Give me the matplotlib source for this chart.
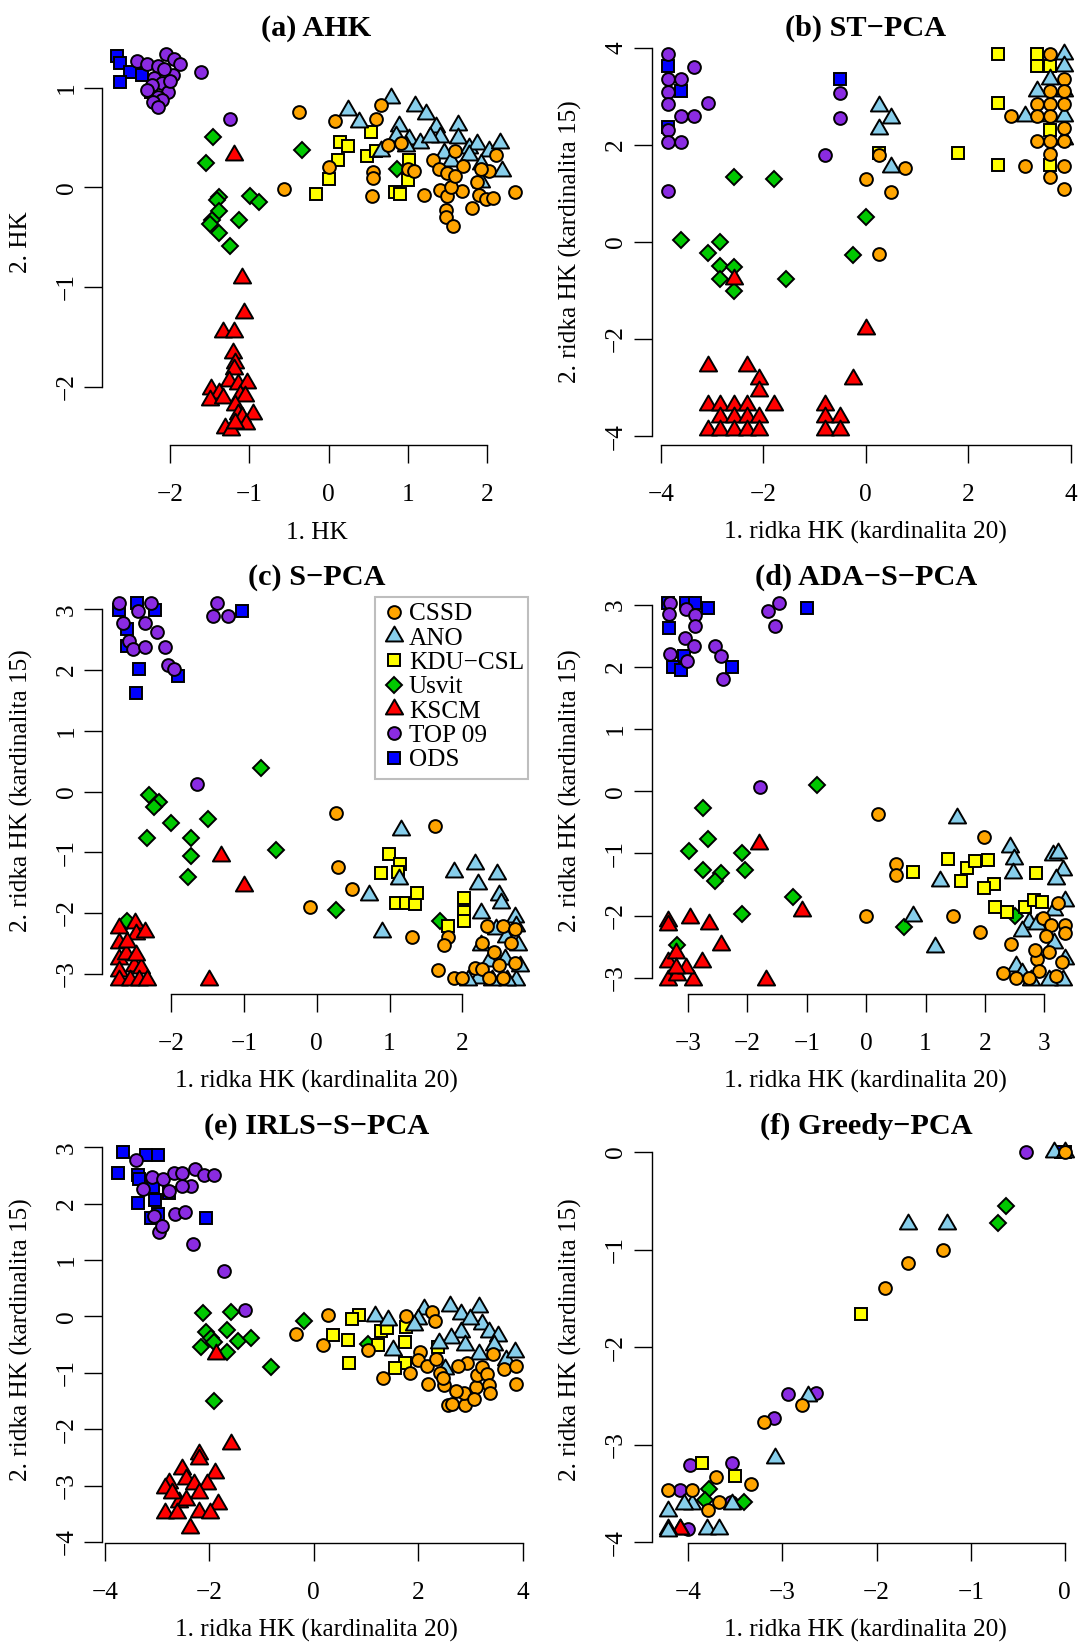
import numpy as np
import matplotlib
matplotlib.use("Agg")
import matplotlib.pyplot as plt
from matplotlib.path import Path
from matplotlib.patches import Rectangle
from matplotlib.lines import Line2D

plt.rcParams['font.family'] = ['Liberation Serif', 'DejaVu Serif']
plt.rcParams['axes.unicode_minus'] = True

# ---------------------------------------------------------------- data
PARTIES = ["CSSD", "ANO", "KDU\u2212CSL", "Usvit", "KSCM", "TOP 09", "ODS"]

TITLES = ["(a) AHK", "(b) ST\u2212PCA", "(c) S\u2212PCA", "(d) ADA\u2212S\u2212PCA",
          "(e) IRLS\u2212S\u2212PCA", "(f) Greedy\u2212PCA"]
XLABELS = ["1. HK"] + ["1. ridka HK (kardinalita 20)"] * 5
YLABELS = ["2. HK"] + ["2. ridka HK (kardinalita 15)"] * 5

XTICKS = [[-2, -1, 0, 1, 2], [-4, -2, 0, 2, 4], [-2, -1, 0, 1, 2],
          [-3, -2, -1, 0, 1, 2, 3], [-4, -2, 0, 2, 4], [-4, -3, -2, -1, 0]]
YTICKS = [[-2, -1, 0, 1], [-4, -2, 0, 2, 4], [-3, -2, -1, 0, 1, 2, 3],
          [-3, -2, -1, 0, 1, 2, 3], [-4, -3, -2, -1, 0, 1, 2, 3], [-4, -3, -2, -1, 0]]

# (a) AHK
A_CSSD = [(-0.38, 0.76), (0.08, 0.67), (0.00, 0.20), (-0.56, -0.02), (0.60, 0.69), (0.66, 0.83),
          (0.56, 0.15), (0.56, 0.09), (0.55, -0.09), (0.75, 0.43), (0.91, 0.45), (1.00, 0.18),
          (1.08, 0.16), (1.20, -0.08), (1.32, 0.27), (1.39, 0.18), (1.49, 0.14), (1.41, -0.03),
          (1.50, -0.09), (1.60, 0.37), (1.70, 0.21), (1.68, -0.04), (1.54, 0.00), (1.48, -0.23),
          (1.48, -0.30), (1.57, -0.39), (1.81, -0.21), (1.90, -0.08), (1.99, -0.12), (2.07, -0.11),
          (2.02, 0.16), (1.92, 0.18), (2.12, 0.32), (2.36, -0.05), (1.87, 0.05), (1.59, 0.11)]
A_ANO = [(0.24, 0.78), (0.38, 0.66), (0.79, 0.90), (1.09, 0.82), (1.23, 0.74), (0.89, 0.62),
         (1.02, 0.49), (0.66, 0.37), (1.15, 0.45), (1.35, 0.61), (1.41, 0.51), (1.63, 0.63),
         (1.63, 0.50), (1.77, 0.40), (1.88, 0.44), (2.02, 0.37), (2.16, 0.45), (2.19, 0.16),
         (1.93, 0.05), (1.93, 0.23), (1.77, 0.33), (1.46, 0.35), (1.54, 0.26), (1.28, 0.51),
         (0.98, 0.42), (0.85, 0.52)]
A_KDU = [(-0.16, -0.07), (0.00, 0.08), (0.12, 0.27), (0.14, 0.46), (0.24, 0.42), (0.48, 0.31),
         (0.53, 0.56), (0.60, 0.37), (0.84, -0.05), (0.90, -0.07), (1.00, 0.07), (1.02, 0.27)]
A_USVIT = [(-1.46, 0.51), (-1.55, 0.24), (-1.38, -0.10), (-1.41, -0.13), (-0.99, -0.09),
           (-0.88, -0.15), (-1.38, -0.24), (-1.47, -0.33), (-1.50, -0.37), (-1.13, -0.33),
           (-1.38, -0.46), (-1.24, -0.59), (-0.34, 0.38), (0.86, 0.18)]
A_KSCM = [(-1.20, 0.33), (-1.10, -0.91), (-1.07, -1.26), (-1.34, -1.45), (-1.20, -1.45),
          (-1.21, -1.66), (-1.18, -1.76), (-1.20, -1.82), (-1.26, -1.94), (-1.15, -1.97),
          (-1.03, -1.96), (-1.49, -2.02), (-1.38, -2.06), (-1.12, -2.08), (-1.06, -2.09),
          (-1.50, -2.13), (-1.34, -2.11), (-1.18, -2.18), (-1.15, -2.27), (-0.96, -2.27),
          (-1.10, -2.30), (-1.31, -2.41), (-1.23, -2.43), (-1.05, -2.37), (-1.18, -2.36)]
A_TOP09 = [(-2.42, 1.27), (-2.29, 1.24), (-2.16, 1.22), (-2.06, 1.34), (-1.95, 1.29), (-1.88, 1.24),
           (-1.97, 1.13), (-2.08, 1.19), (-2.21, 1.10), (-2.10, 1.05), (-2.23, 1.03), (-2.29, 0.98),
           (-2.03, 0.96), (-2.16, 0.91), (-2.11, 0.88), (-2.22, 0.86), (-2.16, 0.81), (-2.01, 1.07),
           (-1.61, 1.16), (-1.24, 0.69)]
A_ODS = [(-2.67, 1.32), (-2.64, 1.25), (-2.40, 1.23), (-2.51, 1.16), (-2.64, 1.06), (-2.36, 1.13),
         (-2.25, 0.96)]

# (b) ST-PCA
B_CSSD = [(3.60, 3.88), (3.87, 3.36), (3.60, 3.12), (3.35, 2.84), (3.60, 2.84), (3.87, 2.84),
          (2.84, 2.59), (3.35, 2.59), (3.60, 2.59), (3.87, 2.34), (3.35, 2.09), (3.60, 2.09),
          (3.60, 1.81), (3.10, 1.57), (3.87, 1.57), (3.60, 1.34), (3.87, 1.09), (3.87, 2.09),
          (3.87, 3.12), (0.26, 1.79), (0.77, 1.53), (0.00, 1.29), (0.50, 1.04), (0.26, -0.24)]
B_ANO = [(3.87, 3.88), (3.87, 3.63), (3.60, 3.35), (3.35, 3.12), (3.87, 3.12), (3.10, 2.59),
         (3.60, 2.59), (3.87, 2.59), (3.87, 2.13), (0.26, 2.81), (0.50, 2.56), (0.26, 2.33),
         (0.50, 1.55)]
B_KDU = [(2.58, 3.88), (3.35, 3.88), (3.35, 3.63), (3.60, 3.63), (2.58, 2.86), (3.60, 2.31),
         (1.80, 1.84), (2.58, 1.59), (3.60, 1.59), (0.26, 1.84)]
B_USVIT = [(-2.57, 1.33), (-1.80, 1.30), (-3.61, 0.04), (-3.09, -0.22), (-2.84, 0.01),
           (-2.84, -0.50), (-2.57, -0.52), (-2.84, -0.76), (-2.57, -1.02), (-1.55, -0.77),
           (0.00, 0.52), (-0.26, -0.26)]
B_KSCM = [(-3.09, -2.56), (-2.33, -2.56), (-2.08, -2.82), (-2.08, -3.07), (-3.09, -3.35),
          (-2.84, -3.35), (-2.57, -3.35), (-2.33, -3.35), (-1.80, -3.35), (-2.84, -3.60),
          (-2.57, -3.60), (-2.33, -3.60), (-2.08, -3.60), (-3.09, -3.87), (-2.84, -3.87),
          (-2.57, -3.87), (-2.33, -3.87), (-2.08, -3.87), (-0.79, -3.35), (-0.79, -3.60),
          (-0.51, -3.60), (-0.79, -3.87), (-0.51, -3.87), (-0.26, -2.82), (0.00, -1.80),
          (-2.57, -0.77)]
B_TOP09 = [(-3.86, 3.88), (-3.86, 3.36), (-3.86, 3.10), (-3.86, 2.84), (-3.86, 2.31), (-3.86, 2.06),
           (-3.86, 1.05), (-3.61, 3.36), (-3.61, 2.59), (-3.61, 2.06), (-3.35, 3.60), (-3.35, 2.59),
           (-3.09, 2.86), (-0.79, 1.79), (-0.51, 3.07), (-0.51, 2.56)]
B_ODS = [(-3.86, 3.63), (-3.86, 2.38), (-3.61, 3.12), (-0.51, 3.35)]

# (c) S-PCA
C_CSSD = [(0.26, -0.36), (1.62, -0.57), (0.29, -1.25), (0.48, -1.61), (-0.09, -1.90), (1.31, -2.40),
          (1.80, -2.40), (1.75, -2.53), (1.66, -2.94), (1.88, -3.07), (1.99, -3.07), (2.34, -2.22),
          (2.56, -2.22), (2.72, -2.26), (2.27, -2.50), (2.67, -2.50), (2.44, -2.65), (2.18, -2.90),
          (2.27, -2.93), (2.51, -2.85), (2.72, -2.82), (2.36, -3.07), (2.56, -3.07)]
C_ANO = [(1.16, -0.63), (1.13, -1.44), (0.72, -1.70), (0.90, -2.31), (1.88, -1.33), (2.18, -1.19),
         (2.22, -1.53), (2.47, -1.36), (2.51, -1.70), (2.53, -1.84), (2.25, -2.00), (2.72, -2.07),
         (2.74, -2.22), (2.22, -3.07), (2.36, -2.79), (2.58, -2.76), (2.74, -3.10), (2.79, -2.87),
         (2.25, -2.53), (2.46, -2.27), (2.60, -2.39), (2.77, -2.53), (2.62, -3.10), (2.41, -3.10),
         (2.08, -3.10)]
C_KDU = [(0.99, -1.03), (1.14, -1.20), (0.88, -1.34), (1.11, -1.33), (1.09, -1.83), (1.22, -1.84),
         (1.35, -1.86), (1.38, -1.67), (2.03, -1.76), (2.03, -1.99), (2.03, -2.13), (1.81, -2.22)]
C_USVIT = [(-2.31, -0.06), (-2.17, -0.18), (-2.24, -0.25), (-2.00, -0.52), (-1.49, -0.46),
           (-2.33, -0.77), (-1.73, -0.77), (-1.73, -1.06), (-1.77, -1.41), (-0.77, 0.39),
           (-0.56, -0.97), (0.27, -1.95), (1.70, -2.13), (-2.60, -2.13)]
C_KSCM = [(-1.32, -1.07), (-1.00, -1.56), (-1.48, -3.10), (-2.72, -2.24), (-2.50, -2.16),
          (-2.48, -2.35), (-2.36, -2.31), (-2.72, -2.50), (-2.72, -2.76), (-2.62, -2.67),
          (-2.72, -2.96), (-2.51, -2.87), (-2.41, -2.90), (-2.72, -3.10), (-2.56, -3.10),
          (-2.44, -3.10), (-2.33, -3.10), (-2.61, -2.47), (-2.48, -2.70)]
C_TOP09 = [(-2.72, 3.10), (-2.27, 3.10), (-1.37, 3.10), (-2.66, 2.78), (-2.36, 2.78), (-2.46, 2.97),
           (-2.20, 2.62), (-2.58, 2.48), (-2.53, 2.35), (-2.36, 2.38), (-2.09, 2.38), (-2.04, 2.08),
           (-1.96, 2.02), (-1.42, 2.89), (-1.22, 2.89), (-1.65, 0.13)]
C_ODS = [(-2.72, 2.99), (-2.47, 3.11), (-2.22, 2.99), (-2.61, 2.68), (-2.61, 2.39), (-2.44, 2.02),
         (-2.48, 1.62), (-1.90, 1.91), (-1.02, 2.98)]

# (d) ADA-S-PCA
D_CSSD = [(0.20, -0.36), (1.98, -0.74), (0.50, -1.17), (0.50, -1.35), (0.00, -2.00), (1.46, -2.00),
          (1.91, -2.26), (2.44, -2.46), (3.23, -1.80), (2.97, -2.04), (3.11, -2.16), (3.35, -2.16),
          (3.03, -2.33), (3.35, -2.28), (2.88, -2.70), (2.91, -2.89), (2.30, -2.93), (2.52, -3.00),
          (2.74, -3.00), (3.20, -2.98), (3.29, -2.75), (3.08, -2.58), (2.85, -2.56)]
D_ANO = [(1.53, -0.43), (1.24, -1.45), (0.79, -2.01), (1.16, -2.50), (2.42, -0.90), (2.49, -1.09),
         (2.48, -1.31), (3.14, -1.02), (3.23, -0.99), (3.32, -1.27), (3.20, -1.41), (3.35, -1.77),
         (3.17, -1.91), (2.74, -2.11), (2.88, -2.13), (2.62, -2.25), (3.17, -2.44), (3.35, -2.70),
         (2.53, -2.81), (2.77, -3.03), (3.32, -3.03), (3.08, -3.03), (2.62, -2.92)]
D_KDU = [(0.79, -1.30), (1.37, -1.09), (1.59, -1.44), (1.69, -1.23), (1.84, -1.13), (2.05, -1.11),
         (2.15, -1.49), (1.99, -1.55), (2.86, -1.31), (2.17, -1.86), (2.67, -1.86), (2.82, -1.75),
         (2.96, -1.79), (2.38, -1.94)]
D_USVIT = [(-2.74, -0.27), (-2.67, -0.77), (-2.99, -0.96), (-2.74, -1.27), (-2.45, -1.31),
           (-2.54, -1.44), (-2.09, -1.00), (-2.04, -1.27), (-2.09, -1.97), (-1.24, -1.70),
           (-0.83, 0.10), (0.64, -2.19), (2.50, -2.00), (-3.18, -2.47)]
D_KSCM = [(-1.81, -0.85), (-1.08, -1.92), (-3.34, -2.09), (-3.34, -2.16), (-2.96, -2.04),
          (-2.64, -2.14), (-2.44, -2.47), (-1.68, -3.03), (-3.34, -2.75), (-3.21, -2.61),
          (-2.77, -2.75), (-3.34, -3.03), (-3.18, -2.95), (-2.92, -3.03), (-3.03, -2.84),
          (-3.21, -2.84)]
D_TOP09 = [(-3.30, 3.02), (-3.32, 2.85), (-3.03, 2.93), (-2.89, 2.84), (-2.89, 2.66), (-3.05, 2.46),
           (-2.90, 2.33), (-3.30, 2.20), (-3.01, 2.09), (-2.54, 2.33), (-2.45, 2.17), (-2.41, 1.81),
           (-1.66, 2.90), (-1.46, 3.02), (-1.54, 2.65), (-1.79, 0.06)]
D_ODS = [(-3.34, 3.02), (-3.03, 3.02), (-2.89, 3.02), (-2.67, 2.95), (-3.32, 2.62), (-3.06, 2.17),
         (-3.26, 2.00), (-3.12, 1.95), (-2.26, 2.00), (-0.99, 2.95)]

# (e) IRLS-S-PCA
E_CSSD = [(0.27, 0.02), (-0.34, -0.31), (0.18, -0.50), (1.04, -0.60), (1.33, -1.10), (1.76, 0.00),
          (2.27, 0.08), (2.32, -0.08), (1.84, -1.00), (2.03, -0.63), (1.99, -0.78), (2.17, -0.88),
          (2.19, -1.19), (2.34, -0.75), (2.42, -1.00), (2.50, -1.22), (2.57, -1.57), (2.65, -1.55),
          (2.90, -1.57), (2.87, -1.35), (2.93, -0.82), (3.10, -1.25), (3.13, -1.03), (3.23, -0.89),
          (3.31, -1.02), (3.35, -1.22), (3.37, -1.35), (3.43, -0.66), (3.64, -0.94), (3.87, -0.88),
          (3.87, -1.19), (2.47, -1.10), (2.73, -1.32), (3.06, -1.47), (2.77, -0.88)]
E_ANO = [(1.17, 0.00), (1.43, -0.06), (2.11, 0.14), (1.99, -0.05), (1.91, -0.16), (2.60, 0.19),
         (2.82, 0.05), (3.16, 0.16), (3.22, -0.13), (3.35, -0.28), (3.53, -0.35), (2.82, -0.28),
         (2.63, -0.38), (2.90, -0.50), (2.40, -0.47), (1.51, -0.60), (2.52, -0.94), (3.16, -0.66),
         (3.46, -0.50), (3.68, -0.78), (3.86, -0.63), (3.00, -0.05)]
E_KDU = [(0.87, 0.03), (0.73, -0.05), (0.36, -0.33), (0.65, -0.42), (0.67, -0.83), (1.28, -0.25),
         (1.23, -0.50), (1.41, -0.20), (1.74, -0.45), (1.74, -0.83), (1.56, -0.91), (1.76, -0.19),
         (2.38, -0.55)]
E_USVIT = [(-2.12, 0.06), (-1.58, 0.08), (-2.07, -0.27), (-1.97, -0.38), (-2.17, -0.55),
           (-1.92, -0.45), (-1.66, -0.24), (-1.66, -0.63), (-1.45, -0.43), (-1.20, -0.38),
           (-0.83, -0.89), (-1.92, -1.50), (-0.19, -0.08), (1.04, -0.48)]
E_KSCM = [(-1.87, -0.66), (-1.58, -2.27), (-2.20, -2.44), (-2.20, -2.52), (-2.52, -2.71),
          (-1.89, -2.77), (-2.77, -2.95), (-2.45, -2.88), (-2.30, -2.98), (-2.05, -2.98),
          (-2.85, -3.04), (-2.58, -3.29), (-2.20, -3.13), (-1.84, -3.33), (-2.86, -3.48),
          (-2.63, -3.48), (-2.20, -3.46), (-2.38, -3.76), (-2.45, -3.26), (-2.71, -3.13),
          (-1.99, -3.48)]
E_TOP09 = [(-3.41, 2.77), (-3.10, 2.48), (-2.88, 2.44), (-2.68, 2.54), (-2.52, 2.54), (-2.28, 2.62),
           (-2.11, 2.51), (-1.92, 2.51), (-2.35, 2.32), (-2.52, 2.32), (-3.27, 2.26), (-2.78, 2.22),
           (-2.65, 1.82), (-2.46, 1.85), (-3.06, 1.79), (-2.96, 1.50), (-2.91, 1.60), (-2.32, 1.28),
           (-1.72, 0.80), (-1.31, 0.11)]
E_ODS = [(-3.65, 2.91), (-3.21, 2.87), (-2.99, 2.87), (-3.75, 2.54), (-3.37, 2.51), (-3.34, 2.44),
         (-3.08, 2.29), (-2.78, 2.19), (-3.36, 2.02), (-3.04, 2.06), (-2.98, 1.82), (-3.11, 1.75),
         (-2.07, 1.74)]

# (f) Greedy-PCA
F_CSSD = [(0.00, 0.00), (-1.29, -1.00), (-1.67, -1.14), (-1.91, -1.39), (-2.79, -2.59), (-3.20, -2.77),
          (-3.71, -3.33), (-3.33, -3.40), (-4.21, -3.46), (-3.96, -3.46), (-3.67, -3.59), (-3.79, -3.67)]
F_ANO = [(-0.12, 0.00), (0.00, 0.00), (-1.67, -0.74), (-1.25, -0.74), (-2.73, -2.50), (-3.08, -3.14),
         (-3.96, -3.61), (-4.22, -3.68), (-3.54, -3.61), (-4.21, -3.88), (-3.80, -3.86), (-3.67, -3.86),
         (-4.04, -3.61)]
F_KDU = [(-2.16, -1.66), (-3.85, -3.19), (-3.50, -3.32)]
F_USVIT = [(-0.63, -0.55), (-0.71, -0.73), (-3.78, -3.45), (-3.41, -3.59), (-3.82, -3.57)]
F_KSCM = [(-4.09, -3.86), (-4.09, -3.86), (-4.21, -3.86)]
F_TOP09 = [(-0.41, 0.00), (-2.94, -2.48), (-2.64, -2.47), (-3.09, -2.73), (-3.54, -3.19),
           (-3.98, -3.21), (-4.09, -3.46), (-4.00, -3.86), (-3.55, -3.59)]
F_ODS = [(0.00, 0.00), (-0.04, 0.00)]

PANEL_DATA = [
    dict(zip(PARTIES, [A_CSSD, A_ANO, A_KDU, A_USVIT, A_KSCM, A_TOP09, A_ODS])),
    dict(zip(PARTIES, [B_CSSD, B_ANO, B_KDU, B_USVIT, B_KSCM, B_TOP09, B_ODS])),
    dict(zip(PARTIES, [C_CSSD, C_ANO, C_KDU, C_USVIT, C_KSCM, C_TOP09, C_ODS])),
    dict(zip(PARTIES, [D_CSSD, D_ANO, D_KDU, D_USVIT, D_KSCM, D_TOP09, D_ODS])),
    dict(zip(PARTIES, [E_CSSD, E_ANO, E_KDU, E_USVIT, E_KSCM, E_TOP09, E_ODS])),
    dict(zip(PARTIES, [F_CSSD, F_ANO, F_KDU, F_USVIT, F_KSCM, F_TOP09, F_ODS])),
]

# ---------------------------------------------------------------- styling
COLORS = {"CSSD": "#FFA500", "ANO": "#87CEEB", "KDU\u2212CSL": "#FFFF00", "Usvit": "#00C800",
          "KSCM": "#FF0000", "TOP 09": "#8A2BE2", "ODS": "#0000FF"}

# R-style filled symbols (pch 21, 24, 22, 23) sized from a common radius
R_PT = 4.6
TRIANGLE = Path([(0, 1.555), (-1.347, -0.778), (1.347, -0.778), (0, 1.555)],
                [Path.MOVETO, Path.LINETO, Path.LINETO, Path.CLOSEPOLY])
MARKERS = {"CSSD": ("o", 2 * R_PT), "ANO": (TRIANGLE, 3.11 * R_PT),
           "KDU\u2212CSL": ("s", 1.772 * R_PT), "Usvit": ("D", 1.772 * R_PT),
           "KSCM": (TRIANGLE, 3.11 * R_PT), "TOP 09": ("o", 2 * R_PT),
           "ODS": ("s", 1.772 * R_PT)}
EDGE_W = 1.4
DRAW_ORDER = ["ODS", "TOP 09", "Usvit", "KSCM", "KDU\u2212CSL", "ANO", "CSSD"]

W, H, DPI = 1079, 1645, 100
AX_W, AX_H = 428.3, 406.6
COL_LEFT = [102.3, 651.7]
ROW_TOP = [38.7, 587.7, 1136.7]
XLIMS = [(-2.859, 2.551), (-4.182, 4.182), (-2.945, 2.938),
         (-3.611, 3.601), (-4.052, 4.152), (-4.388, 0.161)]
YLIMS = [(-2.588, 1.492), (-4.19, 4.19), (-3.339, 3.356),
         (-3.267, 3.273), (-4.023, 3.188), (-4.010, 0.156)]

BASE_FS = 18.2
TITLE_FS = 21.8

fig = plt.figure(figsize=(W / DPI, H / DPI), dpi=DPI)
fig.patch.set_facecolor("white")

for i in range(6):
    row, col = divmod(i, 2)
    left, top = COL_LEFT[col], ROW_TOP[row]
    ax = fig.add_axes([left / W, 1 - (top + AX_H) / H, AX_W / W, AX_H / H])
    ax.patch.set_visible(False)

    data = PANEL_DATA[i]
    for party in DRAW_ORDER:
        pts = np.array(data[party], dtype=float)
        mk, ms = MARKERS[party]
        ax.plot(pts[:, 0], pts[:, 1], linestyle="none", marker=mk, markersize=ms,
                markerfacecolor=COLORS[party], markeredgecolor="black",
                markeredgewidth=EDGE_W)

    ax.set_xlim(*XLIMS[i])
    ax.set_ylim(*YLIMS[i])
    ax.set_xticks(XTICKS[i])
    ax.set_yticks(YTICKS[i])

    for side in ("top", "right"):
        ax.spines[side].set_visible(False)
    ax.spines["left"].set_bounds(YTICKS[i][0], YTICKS[i][-1])
    ax.spines["bottom"].set_bounds(XTICKS[i][0], XTICKS[i][-1])
    for side in ("left", "bottom"):
        ax.spines[side].set_linewidth(1.0)

    ax.tick_params(axis="both", direction="out", length=13.3, width=1.0,
                   labelsize=BASE_FS, colors="black")
    ax.tick_params(axis="x", pad=14.8)
    ax.tick_params(axis="y", pad=4.4, labelrotation=90)
    for lbl in ax.get_yticklabels():
        lbl.set_va("center")
        lbl.set_ha("right")

    ax.set_xlabel(XLABELS[i], fontsize=BASE_FS)
    ax.xaxis.set_label_coords(0.5, -87.5 / AX_H)
    ax.xaxis.label.set_va("center")
    ax.set_ylabel(YLABELS[i], fontsize=BASE_FS)
    ax.yaxis.set_label_coords(-81.0 / AX_W, 0.5)
    ax.yaxis.label.set_va("center")
    ax.yaxis.label.set_ha("center")

    ax.text(0.5, 1 + 3.5 / AX_H, TITLES[i], transform=ax.transAxes, ha="center",
            va="baseline", fontsize=TITLE_FS, fontweight="bold")

# legend box inside panel (c)
LEG_BOX = (374.5, 597.2, 527.7, 779.0)
LEG_MARK_X, LEG_TEXT_X, LEG_Y0, LEG_STEP = 393.5, 409.0, 611.8, 24.33
x0, y0, x1, y1 = LEG_BOX
fig.add_artist(Rectangle((x0 / W, 1 - y1 / H), (x1 - x0) / W, (y1 - y0) / H,
                         transform=fig.transFigure, facecolor="white",
                         edgecolor="#BEBEBE", linewidth=1.5, zorder=5))
for k, party in enumerate(PARTIES):
    yy = 1 - (LEG_Y0 + k * LEG_STEP) / H
    mk, ms = MARKERS[party]
    fig.add_artist(Line2D([LEG_MARK_X / W], [yy], transform=fig.transFigure,
                          linestyle="none", marker=mk, markersize=ms,
                          markerfacecolor=COLORS[party], markeredgecolor="black",
                          markeredgewidth=EDGE_W, zorder=6))
    fig.text(LEG_TEXT_X / W, yy, party, fontsize=BASE_FS, ha="left",
             va="center_baseline", zorder=6)

fig.savefig("out.png", dpi=DPI, facecolor="white")
